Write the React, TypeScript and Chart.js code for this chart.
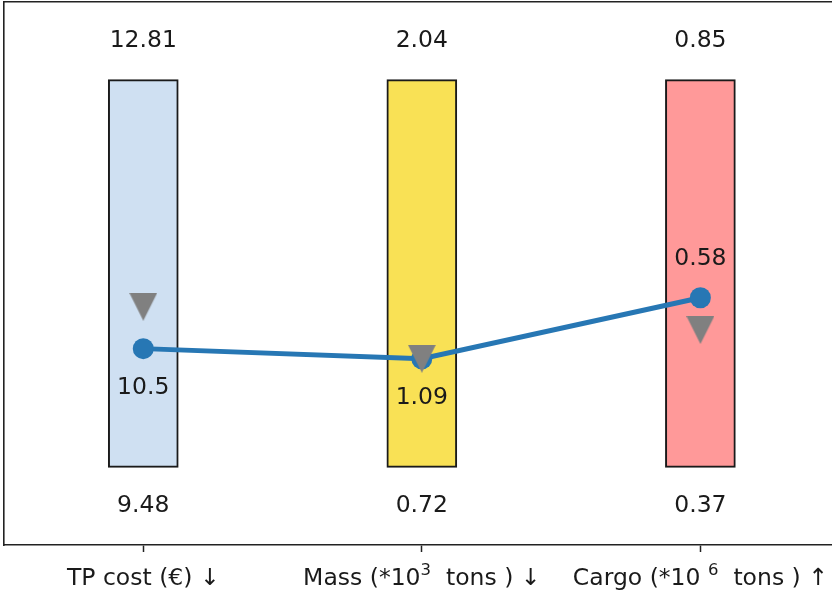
import React, { useEffect, useRef } from 'react';
import { Chart, registerables } from 'chart.js';
Chart.register(...registerables);

// "^{...}" marks a superscript part of the axis label
const categories = ['TP cost (€) ↓', 'Mass (*10^{3}  tons ) ↓', 'Cargo (*10 ^{6}  tons ) ↑'];
const minValues = [9.48, 0.72, 0.37];
const maxValues = [12.81, 2.04, 0.85];
const currentValues = [10.5, 1.09, 0.58];
const targetValues = [10.86, 1.09, 0.54];
const labelSides = ['below', 'below', 'above'];
const barColors = ['#cfe0f2', '#f9e155', '#ff9999'];

const norm = (v: number, i: number) => (v - minValues[i]) / (maxValues[i] - minValues[i]);

const FONT = '"DejaVu Sans", sans-serif';
const TEXT = '#1a1a1a';
const SIZE = 23.5;
const SUP = 16.5;

function parseLabel(s: string) {
  const parts: { t: string; sup: boolean }[] = [];
  const re = /\^\{([^}]*)\}/g;
  let last = 0;
  let m: RegExpExecArray | null;
  while ((m = re.exec(s))) {
    if (m.index > last) parts.push({ t: s.slice(last, m.index), sup: false });
    parts.push({ t: m[1], sup: true });
    last = m.index + m[0].length;
  }
  if (last < s.length) parts.push({ t: s.slice(last), sup: false });
  return parts;
}

function makeTriangle(size: number, color: string) {
  const c = document.createElement('canvas');
  c.width = size;
  c.height = size;
  const ctx = c.getContext('2d')!;
  ctx.fillStyle = color;
  ctx.beginPath();
  ctx.moveTo(0, 0);
  ctx.lineTo(size, 0);
  ctx.lineTo(size / 2, size);
  ctx.closePath();
  ctx.fill();
  return c;
}

const labelsPlugin = {
  id: 'valueLabels',
  afterDatasetsDraw(chart: any) {
    const { ctx, scales } = chart;
    const x = scales.x;
    const y = scales.y;
    ctx.save();
    ctx.font = `${SIZE}px ${FONT}`;
    ctx.fillStyle = TEXT;
    ctx.textAlign = 'center';
    ctx.textBaseline = 'middle';
    categories.forEach((_, i) => {
      const px = x.getPixelForValue(i);
      ctx.fillText(maxValues[i].toFixed(2), px, y.getPixelForValue(1.1));
      ctx.fillText(minValues[i].toFixed(2), px, y.getPixelForValue(-0.1));
      const n = norm(currentValues[i], i);
      const off = labelSides[i] === 'below' ? -0.1 : 0.1;
      ctx.fillText(String(currentValues[i]), px, y.getPixelForValue(n + off));
    });
    ctx.restore();
  },
  afterDraw(chart: any) {
    const { ctx, scales, chartArea } = chart;
    const x = scales.x;
    const baseline = chartArea.bottom + 40;
    ctx.save();
    ctx.fillStyle = TEXT;
    ctx.textBaseline = 'alphabetic';
    ctx.textAlign = 'left';
    categories.forEach((lab, i) => {
      const parts = parseLabel(lab);
      const widths = parts.map((p) => {
        ctx.font = `${p.sup ? SUP : SIZE}px ${FONT}`;
        return ctx.measureText(p.t).width;
      });
      const total = widths.reduce((a, b) => a + b, 0);
      let cx = x.getPixelForValue(i) - total / 2;
      parts.forEach((p, k) => {
        ctx.font = `${p.sup ? SUP : SIZE}px ${FONT}`;
        ctx.fillText(p.t, cx, p.sup ? baseline - 10 : baseline);
        cx += widths[k];
      });
    });
    ctx.restore();
  },
};

export default function App() {
  const ref = useRef<HTMLCanvasElement>(null);
  useEffect(() => {
    const tri = makeTriangle(28, '#808080');
    const chart = new Chart(ref.current!, {
      type: 'bar',
      data: {
        datasets: [
          {
            type: 'scatter',
            data: categories.map((_, i) => ({ x: i, y: norm(targetValues[i], i) })),
            pointStyle: tri as any,
            pointRadius: 14,
            showLine: false,
            order: 1,
          } as any,
          {
            type: 'line',
            data: categories.map((_, i) => ({ x: i, y: norm(currentValues[i], i) })),
            borderColor: '#2777b4',
            backgroundColor: '#2777b4',
            borderWidth: 5,
            pointRadius: 10.5,
            pointBorderWidth: 0,
            pointBackgroundColor: '#2777b4',
            order: 2,
          } as any,
          {
            type: 'bar',
            data: categories.map((_, i) => ({ x: i, y: [0, 1] })),
            backgroundColor: barColors,
            borderColor: '#1a1a1a',
            borderWidth: 2,
            borderSkipped: false,
            barThickness: 70,
            order: 3,
          } as any,
        ],
      },
      options: {
        responsive: false,
        animation: false,
        layout: { autoPadding: false, padding: { left: 4, top: 2, right: 0, bottom: 0 } },
        plugins: { legend: { display: false }, tooltip: { enabled: false } },
        scales: {
          x: {
            type: 'linear',
            position: 'bottom',
            min: -0.5,
            max: 2.4725,
            offset: false,
            afterBuildTicks: (s: any) => {
              s.ticks = categories.map((_, i) => ({ value: i }));
            },
            afterFit: (s: any) => {
              s.height = 48;
            },
            ticks: { display: false },
            grid: {
              offset: false,
              drawOnChartArea: false,
              tickLength: 7,
              tickColor: '#222',
              tickWidth: 1.5,
            },
            border: { display: true, color: '#222', width: 1.6 },
          },
          xTop: {
            type: 'linear',
            position: 'top',
            min: -0.5,
            max: 2.4725,
            ticks: { display: false },
            grid: { display: false, drawTicks: false },
            border: { display: true, color: '#222', width: 1.6 },
          },
          y: {
            type: 'linear',
            min: -0.2,
            max: 1.2,
            ticks: { display: false },
            grid: { display: false, drawTicks: false },
            border: { display: true, color: '#222', width: 1.6 },
          },
        },
      } as any,
      plugins: [labelsPlugin],
    });
    return () => chart.destroy();
  }, []);
  return (
    <div style={{ position: 'fixed', left: 0, top: 0, width: 832, height: 593, background: '#fff' }}>
      <canvas ref={ref} width={832} height={593} style={{ display: 'block' }} />
    </div>
  );
}
